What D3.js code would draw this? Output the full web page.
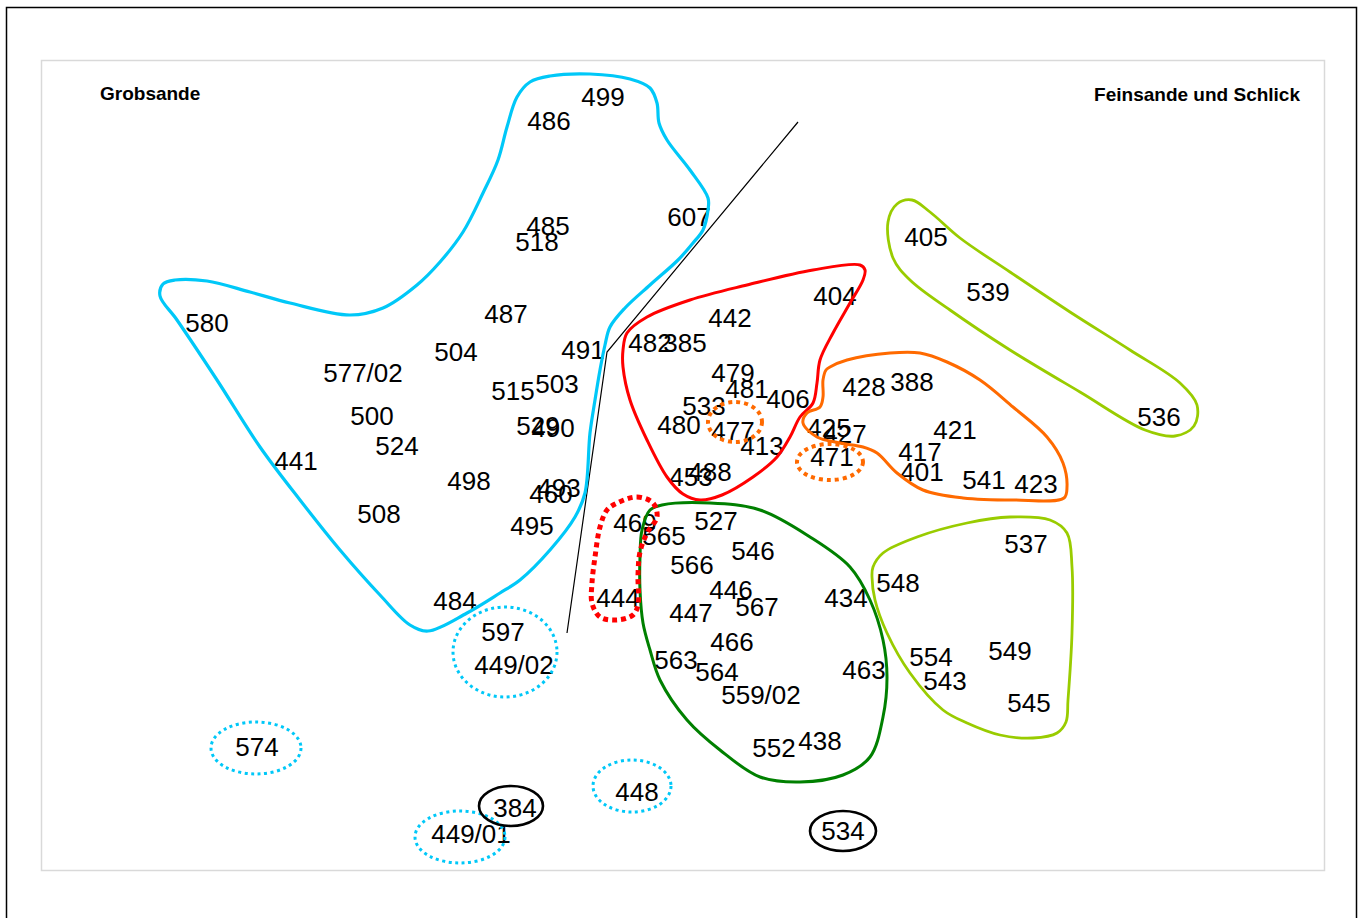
<!DOCTYPE html>
<html>
<head>
<meta charset="utf-8">
<script src="https://cdn.jsdelivr.net/npm/d3@7"></script>
<style>
  html, body { margin: 0; padding: 0; background: #fff; }
  svg { display: block; }
</style>
</head>
<body>
<script>
// ---- Data (positions, in plot units) ----
const labels = ["499","486","485","518","607","580","487","504","491","577/02","503","515","500","524","529","490","441","498","493","460","508","495","484","597","449/02","574","384","449/01","448","534",
  "404","442","482","385","479","481","406","533","480","477","413","453","488",
  "428","388","425","427","471","421","417","401","541","423",
  "405","539","536",
  "469","565","527","546","566","446","444","434","567","447","466","563","564","463","559/02","552","438",
  "537","548","554","549","543","545"];
const labelX = [603,549,548,537,689,207,506,456,583,363,557,513,372,397,538,553,296,469,559,551,379,532,455,503,514,257,515,471,637,843,
  835,730,650,685,733,747,788,704,679,733,762,691,710,
  864,912,829,845,832,955,920,922,984,1036,
  926,988,1159,
  635,664,716,753,692,731,618,846,757,691,732,676,717,864,761,774,820,
  1026,898,931,1010,945,1029];
const labelY = [97,121,226,242,217,323,314,352,350,373,384,391,416,446,426,428,461,481,488,494,514,526,601,632,665,747,808,834,792,831,
  296,318,343,343,373,389,399,406,425,431,446,477,472,
  387,382,428,434,457,430,452,472,480,484,
  237,292,417,
  523,536,521,551,565,590,598,598,607,613,642,660,672,670,695,748,741,
  544,583,657,651,681,703];

const groupTitles = ["Grobsande", "Feinsande und Schlick"];

// closed cluster outlines
const hullCyan = [[530,82],[550,76],[590,74],[630,79],[650,88],[657,103],[659,123],[667,140],[690,170],[708,198],[708,210],[703,230],[693,243],[678,260],[650,285],[625,308],[610,327],[605,345],[600,370],[595,400],[590,433],[585,493],[575,517],[550,550],[520,580],[500,593],[467,613],[428,631],[410,625],[380,595],[340,550],[300,500],[260,447],[217,380],[177,320],[160,296],[163,284],[175,280],[207,281],[250,292],[290,303],[350,315],[383,308],[417,285],[440,262],[463,232],[483,193],[498,160],[507,127],[517,97]];
const hullRed = [[860,265],[813,270],[747,285],[690,300],[647,317],[627,333],[623,350],[623,367],[630,400],[647,440],[667,477],[683,494],[700,500],[722,495],[753,477],[777,457],[790,437],[800,417],[813,403],[817,383],[820,360],[833,333],[850,303],[863,280],[865,270]];
const hullOrange = [[830,367],[847,360],[890,353],[920,353],[947,362],[980,380],[1013,407],[1047,437],[1063,463],[1067,487],[1064,498],[1013,500],[963,498],[923,490],[897,473],[877,453],[863,447],[840,443],[817,437],[803,423],[807,413],[820,407],[823,397],[823,380],[826,370]];
const hullGreen = [[650,510],[662,505],[710,503],[760,510],[810,537],[850,567],[870,600],[883,640],[887,677],[883,717],[870,757],[843,775],[800,782],[760,777],[720,750],[687,720],[660,680],[650,650],[643,623],[640,590],[640,557],[642,530]];
const hullYellowTop = [[888,222],[897,204],[912,200],[930,212],[960,238],[1010,272],[1070,312],[1130,350],[1180,383],[1197,405],[1194,426],[1175,436],[1145,430],[1080,392],[1010,350],[950,310],[910,280],[893,258]];
const hullYellowBottom = [[873,567],[883,553],[917,537],[967,523],[1010,517],[1050,520],[1067,533],[1072,567],[1072,633],[1068,700],[1066,722],[1057,733],[1033,738],[1000,735],[967,723],[943,710],[910,673],[887,633],[875,600],[872,577]];
const hullRedDotted = [[617,503],[637,497],[653,503],[657,517],[647,533],[640,552],[638,575],[638,605],[633,615],[617,620],[600,617],[592,603],[592,583],[595,557],[600,527],[607,510]];

// divider line
const divider = [[798,122],[607,352],[567,633]];

// ellipses: cx, cy, rx, ry
const ellCx = [505,256,632,460,735,830,511,843];
const ellCy = [652,748,786,837,422,462,806,831];
const ellRx = [52,45,39,45,27,33,32,33];
const ellRy = [45,26,26,26,20,18,20,20];
const ellKind = ["cyan","cyan","cyan","cyan","orange","orange","black","black"];

// ---- Drawing ----
const W = 1364, H = 918;
const plot = {left: 41, top: 60, right: 1324, bottom: 870};
const x = d3.scaleLinear().domain([41, 1324]).range([plot.left, plot.right]);
const y = d3.scaleLinear().domain([60, 870]).range([plot.top, plot.bottom]);

const svg = d3.select("body").append("svg").attr("width", W).attr("height", H);
svg.append("rect").attr("width", W).attr("height", H).attr("fill", "#fff");

// outer chart frame
svg.append("rect").attr("x", 6.5).attr("y", 7.5).attr("width", 1350).attr("height", 950)
  .attr("fill", "none").attr("stroke", "#000").attr("stroke-width", 1.5);
// plot area border
svg.append("rect").attr("x", plot.left + 0.5).attr("y", plot.top + 0.5)
  .attr("width", plot.right - plot.left).attr("height", plot.bottom - plot.top)
  .attr("fill", "none").attr("stroke", "#d9d9d9").attr("stroke-width", 1.5);

const font = "'Liberation Sans', Arial, Helvetica, sans-serif";

// group titles
svg.append("text").attr("x", 100).attr("y", 100).text(groupTitles[0])
  .attr("font-family", font).attr("font-weight", "bold").attr("font-size", 19).attr("fill", "#000");
svg.append("text").attr("x", 1300).attr("y", 101).attr("text-anchor", "end").text(groupTitles[1])
  .attr("font-family", font).attr("font-weight", "bold").attr("font-size", 19).attr("fill", "#000");

// station labels
svg.append("g").selectAll("text").data(labels).join("text")
  .attr("x", (d, i) => x(labelX[i]))
  .attr("y", (d, i) => y(labelY[i]))
  .attr("dy", "0.36em")
  .attr("text-anchor", "middle")
  .attr("font-family", font).attr("font-size", 26).attr("fill", "#000")
  .text(d => d);

// divider line
const line = d3.line().x(d => x(d[0])).y(d => y(d[1]));
svg.append("path").attr("d", line(divider)).attr("fill", "none").attr("stroke", "#000").attr("stroke-width", 1.2);

// hulls
const closed = d3.line().x(d => x(d[0])).y(d => y(d[1])).curve(d3.curveCatmullRomClosed.alpha(0.5));
const hulls = [
  {pts: hullCyan, color: "#00c8f8", w: 3.2, dash: null},
  {pts: hullRed, color: "#ff0000", w: 3, dash: null},
  {pts: hullOrange, color: "#ff6a00", w: 3, dash: null},
  {pts: hullGreen, color: "#008000", w: 3, dash: null},
  {pts: hullYellowTop, color: "#99cc00", w: 2.8, dash: null},
  {pts: hullYellowBottom, color: "#99cc00", w: 2.8, dash: null},
  {pts: hullRedDotted, color: "#ff0000", w: 5, dash: "5,4"}
];
svg.append("g").selectAll("path").data(hulls).join("path")
  .attr("d", d => closed(d.pts))
  .attr("fill", "none")
  .attr("stroke", d => d.color)
  .attr("stroke-width", d => d.w)
  .attr("stroke-dasharray", d => d.dash);

// ellipses
const ellStyle = {
  cyan: {color: "#00c8f8", w: 3, dash: "3,3.5"},
  orange: {color: "#ff6a00", w: 4, dash: "4,4"},
  black: {color: "#000", w: 2.6, dash: null}
};
svg.append("g").selectAll("ellipse").data(ellCx).join("ellipse")
  .attr("cx", (d, i) => x(ellCx[i]))
  .attr("cy", (d, i) => y(ellCy[i]))
  .attr("rx", (d, i) => x(ellCx[i] + ellRx[i]) - x(ellCx[i]))
  .attr("ry", (d, i) => y(ellCy[i] + ellRy[i]) - y(ellCy[i]))
  .attr("fill", "none")
  .attr("stroke", (d, i) => ellStyle[ellKind[i]].color)
  .attr("stroke-width", (d, i) => ellStyle[ellKind[i]].w)
  .attr("stroke-dasharray", (d, i) => ellStyle[ellKind[i]].dash);
</script>
</body>
</html>
